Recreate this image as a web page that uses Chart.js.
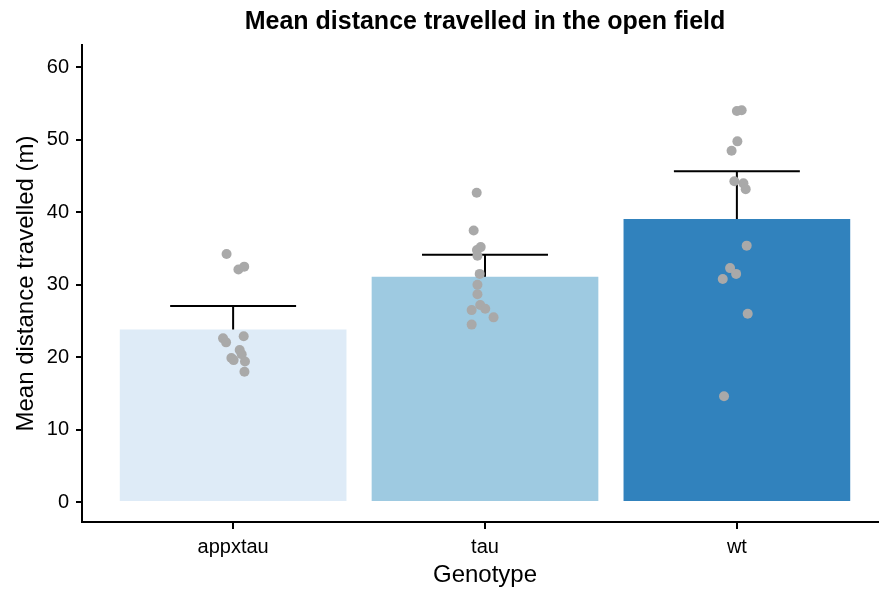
<!DOCTYPE html>
<html>
<head>
<meta charset="utf-8">
<script src="https://cdn.jsdelivr.net/npm/chart.js@4.4.1/dist/chart.umd.min.js"></script>
<style>
  html, body { margin: 0; padding: 0; background: #fff; overflow: hidden; }
  #wrap { width: 893px; height: 592px; }
</style>
</head>
<body>
<div id="wrap"><canvas id="chart" width="893" height="592"></canvas></div>
<script>
// groups and summary values
const genotypes = ['appxtau', 'tau', 'wt'];
const meanDistance = [23.84, 31.1, 39.07];
const errorSize = [3.22, 3.04, 6.59];
const barColors = ['#deebf7', '#9ecae1', '#3182bd'];

// single animals, x is the jittered group position
const appxtauX = [0.974, 1.021, 1.044, 0.960, 0.972, 1.042, 1.026, 1.034, 0.993, 1.002, 1.047, 1.045];
const appxtauY = [34.24, 32.1, 32.5, 22.6, 22.05, 22.9, 21.0, 20.4, 19.9, 19.6, 19.4, 18.0];
const tauX = [1.967, 1.955, 1.983, 1.968, 1.970, 1.979, 1.970, 1.970, 1.981, 2.001, 1.947, 2.034, 1.947];
const tauY = [42.7, 37.5, 35.2, 34.8, 34.0, 31.5, 30.0, 28.7, 27.2, 26.7, 26.5, 25.5, 24.5];
const wtX = [3.000, 3.019, 3.002, 2.979, 2.990, 3.026, 3.035, 3.039, 2.973, 2.997, 2.944, 3.043, 2.949];
const wtY = [54.0, 54.1, 49.8, 48.5, 44.3, 44.0, 43.2, 35.4, 32.3, 31.5, 30.8, 26.0, 14.6];

const xTicks = [1, 2, 3];
const yTicks = [0, 10, 20, 30, 40, 50, 60];

const FONT = '"Liberation Sans", Arial, Helvetica, sans-serif';
Chart.defaults.font.family = FONT;
Chart.defaults.color = '#000';

function pts(xs, ys) {
    return xs.map(function(x, i) { return { x: x, y: ys[i] }; });
}

// error bars: cap + vertical line from the mean up, gaps between pieces
let errData = [];
genotypes.forEach(function(g, i) {
    let top = meanDistance[i] + errorSize[i];
    errData.push({ x: i + 1 - 0.25, y: top }, { x: i + 1 + 0.25, y: top }, { x: i + 1, y: null });
    errData.push({ x: i + 1, y: meanDistance[i] }, { x: i + 1, y: top }, { x: i + 1, y: null });
});

const titlePlugin = {
    id: 'plotTitle',
    afterDraw(chart) {
        const ctx = chart.ctx, area = chart.chartArea;
        ctx.save();
        ctx.font = 'bold 25px ' + FONT;
        ctx.fillStyle = '#000';
        ctx.textAlign = 'center';
        ctx.textBaseline = 'alphabetic';
        ctx.fillText('Mean distance travelled in the open field', (area.left + area.right) / 2, 29);
        ctx.restore();
    }
};

const pointStyle = { backgroundColor: '#a9a9a9', borderWidth: 0, pointRadius: 5, order: 0 };

new Chart(document.getElementById('chart'), {
    type: 'bar',
    data: {
        datasets: [
            {
                type: 'bar',
                data: genotypes.map(function(g, i) { return { x: i + 1, y: meanDistance[i] }; }),
                backgroundColor: barColors,
                borderWidth: 0,
                categoryPercentage: 1,
                barPercentage: 0.9,
                order: 2
            },
            {
                type: 'scatter',
                data: errData,
                showLine: true,
                spanGaps: false,
                borderColor: '#000',
                borderWidth: 2,
                pointRadius: 0,
                order: 1
            },
            Object.assign({ type: 'scatter', data: pts(appxtauX, appxtauY) }, pointStyle),
            Object.assign({ type: 'scatter', data: pts(tauX, tauY) }, pointStyle),
            Object.assign({ type: 'scatter', data: pts(wtX, wtY) }, pointStyle)
        ]
    },
    options: {
        responsive: false,
        animation: false,
        layout: { padding: { top: 45, right: 1, bottom: 0, left: 0 } },
        plugins: {
            legend: { display: false },
            tooltip: { enabled: false }
        },
        scales: {
            x: {
                type: 'linear',
                min: 0.4,
                max: 3.6,
                offset: false,
                afterBuildTicks: function(s) { s.ticks = xTicks.map(function(v) { return { value: v }; }); },
                afterFit: function(s) { s.height = 70; },
                ticks: {
                    callback: function(v) { return genotypes[v - 1]; },
                    color: '#000',
                    font: { size: 20 },
                    padding: 6
                },
                grid: { offset: false, drawOnChartArea: false, drawTicks: true, tickLength: 7, color: '#000', lineWidth: 2 },
                border: { display: true, color: '#000', width: 2 },
                title: { display: true, text: 'Genotype', color: '#000', font: { size: 24 }, padding: { top: 0, bottom: 2 } }
            },
            y: {
                type: 'linear',
                min: -2.75,
                max: 63.1,
                afterBuildTicks: function(s) { s.ticks = yTicks.map(function(v) { return { value: v }; }); },
                afterFit: function(s) { s.width = 82; },
                ticks: { color: '#000', font: { size: 20 }, padding: 7 },
                grid: { drawOnChartArea: false, drawTicks: true, tickLength: 6, color: '#000', lineWidth: 2 },
                border: { display: true, color: '#000', width: 2 },
                title: { display: true, text: 'Mean distance travelled (m)', color: '#000', font: { size: 24 }, padding: { top: 12, bottom: 0 } }
            }
        }
    },
    plugins: [titlePlugin]
});
</script>
</body>
</html>
